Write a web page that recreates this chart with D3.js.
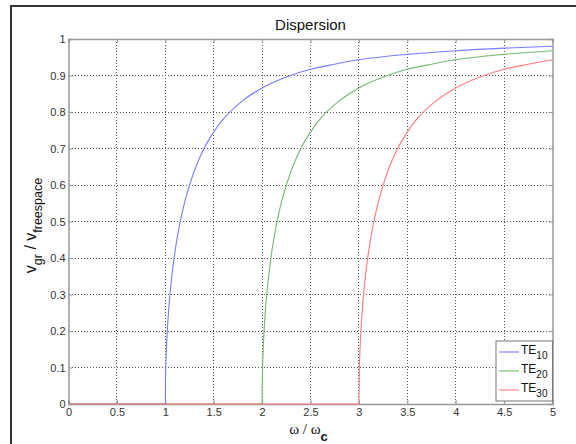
<!DOCTYPE html>
<html>
<head>
<meta charset="utf-8">
<script src="https://cdn.jsdelivr.net/npm/d3@7"></script>
<style>
  html, body { margin: 0; padding: 0; background: #fff; }
  svg { display: block; }
  text { font-family: "Liberation Sans", Arial, Helvetica, sans-serif; }
</style>
</head>
<body>
<svg id="chart" width="576" height="444"></svg>
<script>
// Normalised frequency ω/ωc and group velocity ratio for each TE mode
const te10X = [0, 1, 1.003, 1.01, 1.02, 1.04, 1.07, 1.1, 1.15, 1.2, 1.3, 1.4, 1.5, 1.6, 1.8, 2, 2.25, 2.5, 2.75, 3, 3.5, 4, 4.5, 5];
const te10Y = [0, 0, 0.077, 0.140, 0.196, 0.275, 0.356, 0.417, 0.494, 0.553, 0.639, 0.700, 0.745, 0.781, 0.831, 0.866, 0.896, 0.917, 0.931, 0.943, 0.958, 0.968, 0.975, 0.980];

const te20X = [0, 2, 2.001, 2.01, 2.02, 2.04, 2.07, 2.1, 2.15, 2.2, 2.3, 2.4, 2.5, 2.6, 2.8, 3, 3.25, 3.5, 3.75, 4, 4.5, 5];
const te20Y = [0, 0, 0.045, 0.140, 0.196, 0.275, 0.356, 0.417, 0.494, 0.553, 0.639, 0.700, 0.745, 0.781, 0.831, 0.866, 0.896, 0.917, 0.931, 0.943, 0.958, 0.968];

const te30X = [0, 3, 3.005, 3.01, 3.02, 3.04, 3.07, 3.1, 3.15, 3.2, 3.3, 3.4, 3.5, 3.6, 3.8, 4, 4.25, 4.5, 4.75, 5];
const te30Y = [0, 0, 0.093, 0.140, 0.196, 0.275, 0.356, 0.417, 0.494, 0.553, 0.639, 0.700, 0.745, 0.781, 0.831, 0.866, 0.896, 0.917, 0.931, 0.943];

const seriesNames = ["10", "20", "30"];
const seriesColors = ["#7b7bff", "#72b872", "#ff7b7b"];

const xTicks = [0, 0.5, 1, 1.5, 2, 2.5, 3, 3.5, 4, 4.5, 5];
const xTickLabels = ["0", "0.5", "1", "1.5", "2", "2.5", "3", "3.5", "4", "4.5", "5"];
const yTicks = [0, 0.1, 0.2, 0.3, 0.4, 0.5, 0.6, 0.7, 0.8, 0.9, 1];
const yTickLabels = ["0", "0.1", "0.2", "0.3", "0.4", "0.5", "0.6", "0.7", "0.8", "0.9", "1"];

const svg = d3.select("#chart");
const plotL = 68.5, plotR = 552.5, plotT = 39, plotB = 404;

const x = d3.scaleLinear().domain([0, 5]).range([plotL, plotR]);
const y = d3.scaleLinear().domain([0, 1]).range([plotB, plotT]);

// outer figure frame
svg.append("path")
  .attr("d", `M11,444 L11,6 L576,6`)
  .attr("fill", "none")
  .attr("stroke", "#333")
  .attr("stroke-width", 2);

// dotted grid
const grid = svg.append("g");
grid.selectAll("line.vx").data(xTicks.slice(1, -1)).join("line")
  .attr("class", "vx")
  .attr("x1", d => x(d)).attr("x2", d => x(d))
  .attr("y1", plotT).attr("y2", plotB);
grid.selectAll("line.hy").data(yTicks.slice(1, -1)).join("line")
  .attr("class", "hy")
  .attr("x1", plotL).attr("x2", plotR)
  .attr("y1", d => y(d)).attr("y2", d => y(d));
grid.selectAll("line")
  .attr("stroke", "#555")
  .attr("stroke-width", 1)
  .attr("stroke-dasharray", "1,2")
  .attr("shape-rendering", "crispEdges");

// axes with inward ticks
svg.append("g").attr("transform", `translate(0,${plotB})`)
  .call(d3.axisBottom(x).tickValues(xTicks).tickSize(-4).tickPadding(4)
    .tickFormat((d, i) => xTickLabels[i]));
svg.append("g").attr("transform", `translate(${plotL},0)`)
  .call(d3.axisLeft(y).tickValues(yTicks).tickSize(-4).tickPadding(3)
    .tickFormat((d, i) => yTickLabels[i]));
svg.append("g").attr("transform", `translate(0,${plotT})`)
  .call(d3.axisTop(x).tickValues(xTicks).tickSize(-4).tickFormat(""));
svg.append("g").attr("transform", `translate(${plotR},0)`)
  .call(d3.axisRight(y).tickValues(yTicks).tickSize(-4).tickFormat(""));

svg.selectAll(".domain").attr("stroke", "#999").attr("stroke-width", 1.5);
svg.selectAll(".tick line").attr("stroke", "#999");
svg.selectAll(".tick text").attr("fill", "#333").style("font-size", "11px");

// curves
const seriesX = [te10X, te20X, te30X];
const seriesY = [te10Y, te20Y, te30Y];
const line = d3.line().x(d => x(d[0])).y(d => y(d[1])).curve(d3.curveMonotoneX);
seriesX.forEach((xs, k) => {
  const pts = xs.map((v, i) => [v, seriesY[k][i]]);
  svg.append("path")
    .datum(pts)
    .attr("d", line)
    .attr("fill", "none")
    .attr("stroke", seriesColors[k])
    .attr("stroke-width", 1.1);
});

// title
svg.append("text")
  .attr("x", (plotL + plotR) / 2).attr("y", 30)
  .attr("text-anchor", "middle")
  .style("font-size", "15px").attr("fill", "#111")
  .text("Dispersion");

// x label: ω / ωc
const xl = svg.append("text")
  .attr("x", (plotL + plotR) / 2 - 2).attr("y", 434)
  .attr("text-anchor", "middle")
  .style("font-size", "15px").attr("fill", "#111");
xl.append("tspan").style("font-family", "'Liberation Serif', 'DejaVu Serif', serif").text("ω / ω");
xl.append("tspan").attr("dy", 7).style("font-size", "13px").style("font-weight", "bold").text("c");

// y label: vgr / vfreespace
const yl = svg.append("text")
  .attr("transform", `translate(36,${(plotT + plotB) / 2 + 4}) rotate(-90)`)
  .attr("text-anchor", "middle")
  .style("font-size", "16px").attr("fill", "#111");
yl.append("tspan").text("v");
yl.append("tspan").attr("dy", 6).style("font-size", "12.5px").text("gr");
yl.append("tspan").attr("dy", -6).text(" / v");
yl.append("tspan").attr("dy", 6).style("font-size", "12.5px").text("freespace");

// legend
const lg = svg.append("g");
lg.append("rect")
  .attr("x", 496).attr("y", 341).attr("width", 56.5).attr("height", 60)
  .attr("fill", "#fff").attr("stroke", "#777").attr("stroke-width", 1);
seriesNames.forEach((name, k) => {
  const cy = 352 + k * 19;
  lg.append("line")
    .attr("x1", 499).attr("x2", 519).attr("y1", cy).attr("y2", cy)
    .attr("stroke", seriesColors[k]).attr("stroke-width", 1.1);
  const t = lg.append("text").attr("x", 521).attr("y", cy + 1.5)
    .style("font-size", "12px").attr("fill", "#111");
  t.append("tspan").text("TE");
  t.append("tspan").attr("dy", 5).style("font-size", "10px").text(name);
});
</script>
</body>
</html>
